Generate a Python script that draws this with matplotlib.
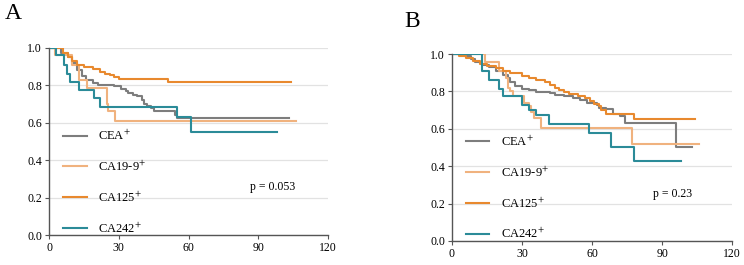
import numpy as np
import matplotlib
matplotlib.use('Agg')
import matplotlib.pyplot as plt

plt.rcParams['font.family'] = ['Liberation Serif', 'DejaVu Serif']
plt.rcParams['mathtext.fontset'] = 'stix'

# Curvas de supervivencia (tiempo en meses, probabilidad) - panel A
cea_a_t = [0, 5, 8, 10, 12, 14, 16, 19, 21, 28, 31, 33, 34, 36, 38, 40, 41, 42, 44, 45, 54, 55, 103]
cea_a_s = [1.0, 0.97, 0.95, 0.92, 0.88, 0.85, 0.83, 0.81, 0.80, 0.795, 0.78, 0.77, 0.76, 0.75, 0.74,
           0.72, 0.70, 0.69, 0.68, 0.66, 0.64, 0.625, 0.625]
ca199_a_t = [0, 2.5, 10, 13, 16.5, 24.8, 25.3, 28.4, 106]
ca199_a_s = [1.0, 0.96, 0.91, 0.83, 0.785, 0.70, 0.66, 0.607, 0.607]
ca125_a_t = [0, 6, 8, 10, 12, 15, 19, 22, 24, 26, 28, 30, 51, 104]
ca125_a_s = [1.0, 0.97, 0.95, 0.93, 0.91, 0.895, 0.885, 0.872, 0.862, 0.854, 0.845, 0.835, 0.815, 0.815]
ca242_a_t = [0, 3, 6.5, 7.5, 9, 13, 19.5, 22, 55, 61, 98]
ca242_a_s = [1.0, 0.96, 0.91, 0.86, 0.818, 0.774, 0.73, 0.685, 0.628, 0.548, 0.548]

# Panel B
cea_b_t = [0, 5, 8, 10, 13, 16, 19, 22, 24, 25, 27, 30, 33, 36, 42, 44, 48, 52, 55, 58, 62, 63, 66,
           69, 72, 74, 96, 103]
cea_b_s = [1.0, 0.99, 0.975, 0.955, 0.94, 0.93, 0.91, 0.89, 0.87, 0.85, 0.83, 0.815, 0.805, 0.795,
           0.79, 0.78, 0.775, 0.765, 0.755, 0.74, 0.73, 0.71, 0.705, 0.68, 0.67, 0.63, 0.505, 0.505]
ca199_b_t = [0, 14, 20, 23, 24, 25, 26, 31, 33, 34, 35, 38, 77, 106]
ca199_b_s = [1.0, 0.957, 0.91, 0.87, 0.82, 0.80, 0.777, 0.74, 0.72, 0.69, 0.66, 0.605, 0.518, 0.518]
ca125_b_t = [0, 3, 6, 9, 12, 15, 19, 22, 25, 30, 33, 36, 40, 42, 44, 46, 48, 50, 54, 57, 59, 61,
             63, 64, 66, 78, 104]
ca125_b_s = [1.0, 0.99, 0.98, 0.965, 0.945, 0.935, 0.925, 0.91, 0.90, 0.885, 0.872, 0.86, 0.848,
             0.835, 0.82, 0.805, 0.795, 0.785, 0.775, 0.765, 0.75, 0.735, 0.72, 0.70, 0.68, 0.65, 0.65]
ca242_b_t = [0, 13, 16, 20, 22, 30, 33, 36, 41.5, 58.5, 68, 78, 98]
ca242_b_s = [1.0, 0.91, 0.862, 0.815, 0.773, 0.73, 0.70, 0.675, 0.625, 0.577, 0.502, 0.428, 0.428]

etiquetas = ['CEA$^{+}$', 'CA19-9$^{+}$', 'CA125$^{+}$', 'CA242$^{+}$']
colores = ['#7d7d7d', '#f0b27e', '#e8892e', '#2b8b98']
p_valores = ['p = 0.053', 'p = 0.23']
paneles = ['A', 'B']

datos = [
    [(cea_a_t, cea_a_s), (ca199_a_t, ca199_a_s), (ca125_a_t, ca125_a_s), (ca242_a_t, ca242_a_s)],
    [(cea_b_t, cea_b_s), (ca199_b_t, ca199_b_s), (ca125_b_t, ca125_b_s), (ca242_b_t, ca242_b_s)],
]

fig = plt.figure(figsize=(7.44, 2.65), dpi=100)
posiciones = [[0.066, 0.113, 0.375, 0.707], [0.6075, 0.091, 0.3765, 0.705]]
letras_xy = [(0.006, 0.99), (0.543, 0.96)]
p_xy = [(96, 0.256), (94.5, 0.25)]

for i in range(2):
    ax = fig.add_axes(posiciones[i])
    for (t, s), etq, col in zip(datos[i], etiquetas, colores):
        ax.step(t, s, where='post', color=col, lw=1.5, label=etq)
    ax.set_xlim(0, 120)
    ax.set_ylim(0, 1.0)
    ax.set_xticks([0, 30, 60, 90, 120])
    ax.set_yticks([0, 0.2, 0.4, 0.6, 0.8, 1.0])
    ax.set_yticklabels(['0.0', '0.2', '0.4', '0.6', '0.8', '1.0'])
    ax.yaxis.grid(True, color='#e2e2e2', lw=0.9)
    ax.set_axisbelow(True)
    for lado in ['top', 'right']:
        ax.spines[lado].set_visible(False)
    for lado in ['left', 'bottom']:
        ax.spines[lado].set_color('#555555')
        ax.spines[lado].set_linewidth(1.0)
    ax.tick_params(labelsize=8.5, length=3, color='#555555', pad=2)
    ax.legend(loc='lower left', bbox_to_anchor=(0.02, -0.05), frameon=False, fontsize=9,
              labelspacing=1.32, handlelength=1.85, handletextpad=0.9, borderaxespad=0.3)
    ax.text(p_xy[i][0], p_xy[i][1], p_valores[i], fontsize=8.5, ha='center', va='center')
    fig.text(letras_xy[i][0], letras_xy[i][1], paneles[i], fontsize=17, ha='left', va='top')

fig.savefig('out.png', dpi=100)
